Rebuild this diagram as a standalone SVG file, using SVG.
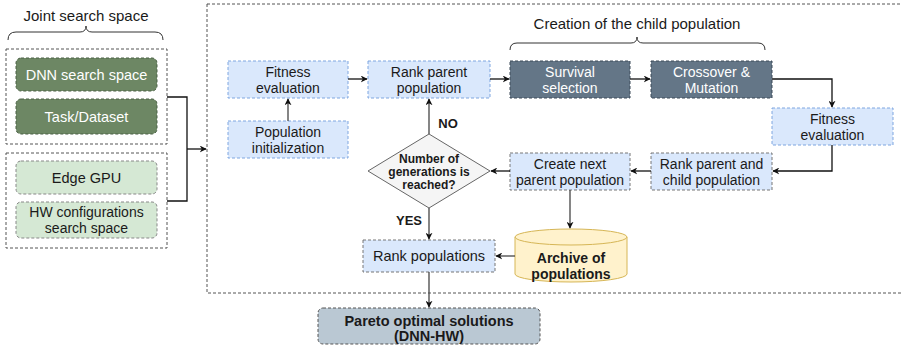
<svg xmlns="http://www.w3.org/2000/svg" width="902" height="345" viewBox="0 0 902 345">
<defs>
<marker id="ah" viewBox="0 0 10 10" refX="9" refY="5" markerWidth="7" markerHeight="7" orient="auto" markerUnits="userSpaceOnUse">
<path d="M0,0 L10,5 L0,10 L3,5 Z" fill="#111"/>
</marker>
<style>
text{font-family:"Liberation Sans",Arial,sans-serif;font-size:14px;fill:#1a1a1a;text-anchor:middle}
.lbl{font-size:15px}
.w{fill:#ffffff}
.b{font-weight:bold}
.d{font-size:12px;font-weight:bold}
.blue{fill:#dae8fc;stroke:#7ea6e0;stroke-dasharray:3 2}
.bg{fill:#dae8fc;stroke:#777;stroke-dasharray:3 2}
.dark{fill:#647687;stroke:#3d4b58;stroke-dasharray:3 2}
.dg{fill:#6d8764;stroke:#4a6044;stroke-dasharray:3 2}
.lg{fill:#d5e8d4;stroke:#888;stroke-dasharray:3 2}
.outer{fill:none;stroke:#555;stroke-dasharray:3 2}
.c{fill:none;stroke:#111;stroke-width:1.3}
.c2{fill:none;stroke:#444;stroke-width:1.3}
</style>
</defs>

<g id="joint-label">
<text class="lbl" x="86" y="21">Joint search space</text>
<path d="M8,40 Q8,32 16,32 L80,32 Q86,32 86,26 Q86,32 92,32 L155,32 Q163,32 163,40" fill="none" stroke="#333" stroke-width="1"/>
</g>
<rect class="outer" x="6" y="49" width="161" height="95"/>
<rect class="outer" x="6" y="153" width="161" height="95"/>
<g id="dnn"><rect class="dg" x="16" y="58" width="141" height="33" rx="5"/><text class="w" x="86.5" y="79.5" style="font-size:14.5px">DNN search space</text></g>
<g id="task"><rect class="dg" x="16" y="99" width="141" height="35" rx="5"/><text class="w" x="86.5" y="121.5" style="font-size:14.5px">Task/Dataset</text></g>
<g id="gpu"><rect class="lg" x="16" y="161" width="141" height="33" rx="5"/><text x="86.5" y="182.5" style="font-size:14.5px">Edge GPU</text></g>
<g id="hw"><rect class="lg" x="16" y="202" width="141" height="36" rx="5"/><text x="86.5" y="217">HW configurations</text><text x="86.5" y="232.5">search space</text></g>

<rect class="outer" x="207" y="4" width="700" height="289"/>

<g id="child-label">
<text class="lbl" x="637" y="29">Creation of the child population</text>
<path d="M510,50 Q510,43 517,43 L631,43 Q637,43 637,37 Q637,43 643,43 L758,43 Q765,43 765,50" fill="none" stroke="#333" stroke-width="1"/>
</g>

<g id="fit1"><rect class="blue" x="228" y="61" width="120" height="37"/><text x="288" y="77">Fitness</text><text x="288" y="92.5">evaluation</text></g>
<g id="popinit"><rect class="blue" x="228" y="121" width="120" height="37"/><text x="288" y="137">Population</text><text x="288" y="152.5">initialization</text></g>
<g id="rankparent"><rect class="blue" x="368" y="61" width="122" height="37"/><text x="429" y="77">Rank parent</text><text x="429" y="92.5">population</text></g>
<g id="survival"><rect class="dark" x="510" y="61" width="120" height="37"/><text class="w" x="570" y="77">Survival</text><text class="w" x="570" y="92.5">selection</text></g>
<g id="crossover"><rect class="dark" x="651" y="61" width="121" height="37"/><text class="w" x="711.5" y="77">Crossover &amp;</text><text class="w" x="711.5" y="92.5">Mutation</text></g>
<g id="fit2"><rect class="blue" x="772" y="108" width="121" height="37"/><text x="832.5" y="124">Fitness</text><text x="832.5" y="139.5">evaluation</text></g>
<g id="rankpc"><rect class="bg" x="651" y="153" width="121" height="37"/><text x="711.5" y="169">Rank parent and</text><text x="711.5" y="184.5">child population</text></g>
<g id="createnext"><rect class="bg" x="510" y="153" width="120" height="37"/><text x="570" y="169">Create next</text><text x="570" y="184.5">parent population</text></g>
<g id="decision"><polygon points="429,134 490,171 429,208 368,171" fill="#f5f5f5" stroke="#666"/>
<text class="d" x="429" y="163">Number of</text><text class="d" x="429" y="176">generations is</text><text class="d" x="429" y="189">reached?</text></g>
<g id="rankpops"><rect class="bg" x="363" y="240" width="132" height="32"/><text x="429" y="261" style="font-size:14.5px">Rank populations</text></g>
<g id="archive">
<path d="M515,237 L515,274 A56,8 0 0 0 627,274 L627,237" fill="#fff2cc" stroke="#d6b656"/>
<ellipse cx="571" cy="237" rx="56" ry="8" fill="#fff2cc" stroke="#d6b656"/>
<text class="b" x="571" y="263">Archive of</text><text class="b" x="571" y="278.5">populations</text></g>
<g id="pareto"><rect x="318" y="308" width="222" height="36" rx="5" fill="#bac8d3" stroke="#555" stroke-dasharray="3 2"/>
<text class="b" x="429" y="325.5" style="font-size:14.5px">Pareto optimal solutions</text><text class="b" x="429" y="341" style="font-size:14.5px">(DNN-HW)</text></g>

<g id="connectors">
<path class="c" d="M167,97 H187 V201 H167"/>
<path class="c" d="M187,149 H206" marker-end="url(#ah)"/>
<path class="c2" d="M288,121 V99" marker-end="url(#ah)"/>
<path class="c" d="M348,79 H367" marker-end="url(#ah)"/>
<path class="c" d="M490,79 H509" marker-end="url(#ah)"/>
<path class="c" d="M630,79 H650" marker-end="url(#ah)"/>
<path class="c" d="M772,79 H832 V107" marker-end="url(#ah)"/>
<path class="c" d="M832,145 V171 H773" marker-end="url(#ah)"/>
<path class="c" d="M651,171 H631" marker-end="url(#ah)"/>
<path class="c" d="M510,171 H491" marker-end="url(#ah)"/>
<path class="c2" d="M429,134 V99" marker-end="url(#ah)"/>
<path class="c2" d="M429,208 V239" marker-end="url(#ah)"/>
<path class="c2" d="M570,190 V228" marker-end="url(#ah)"/>
<path class="c2" d="M515,256 H496" marker-end="url(#ah)"/>
<path class="c2" d="M429,272 V307" marker-end="url(#ah)"/>
<text class="b" x="448" y="128" style="font-size:13px">NO</text>
<text class="b" x="409" y="225" style="font-size:13px">YES</text>
</g>
</svg>
